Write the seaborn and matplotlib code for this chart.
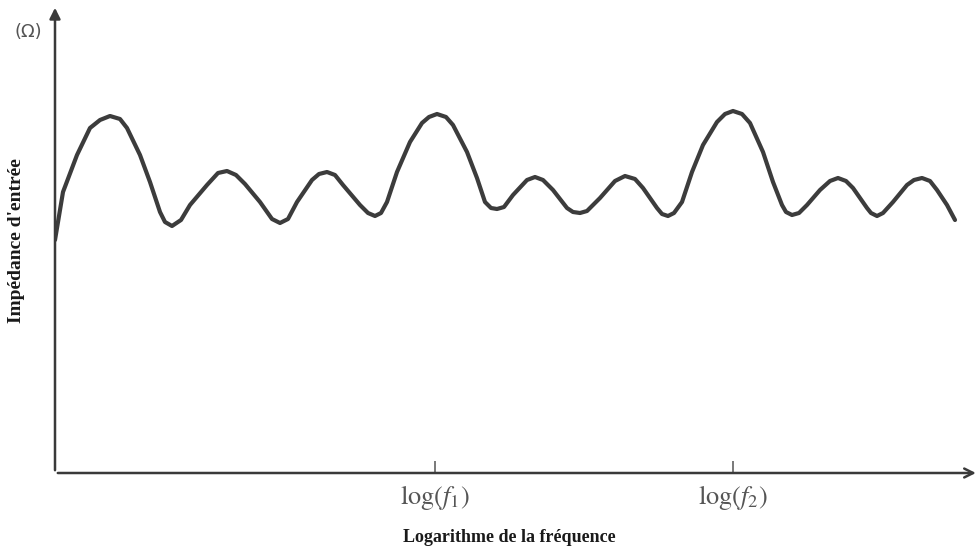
import numpy as np
import pandas as pd
import matplotlib
matplotlib.use("Agg")
import matplotlib.pyplot as plt
import seaborn as sns

# points (unités arbitraires, axe x 0..920, axe y 0..468)
freq_log = [0, 8, 22, 35, 45, 55, 65, 72, 85, 95, 105, 110, 117, 126, 135,
            152, 163, 172, 181, 190, 205, 217, 225, 233, 242, 257, 264, 272,
            280, 288, 305, 313, 320, 326, 332, 342, 355, 367, 374, 382, 391,
            398, 412, 422, 430, 436, 442, 449, 458, 472, 480, 488, 498, 512,
            518, 525, 532, 545, 560, 570, 580, 588, 602, 607, 613, 619, 627,
            637, 648, 662, 670, 678, 687, 695, 708, 718, 727, 731, 737, 744,
            752, 765, 775, 783, 791, 798, 812, 816, 822, 828, 838, 852, 859,
            867, 875, 882, 892, 900]
impedance = [233, 281, 318, 345, 353, 357, 354, 345, 318, 291, 261, 251, 247,
             253, 268, 288, 300, 302, 298, 289, 271, 254, 250, 254, 271, 293,
             299, 301, 298, 288, 268, 260, 257, 260, 271, 301, 331, 350, 356,
             359, 356, 348, 321, 295, 271, 265, 264, 266, 278, 293, 296, 293,
             283, 265, 261, 260, 262, 275, 292, 297, 294, 285, 265, 259, 257,
             260, 271, 301, 328, 351, 359, 362, 359, 350, 321, 291, 268, 261,
             258, 260, 268, 283, 292, 295, 292, 285, 265, 260, 257, 260, 271,
             288, 293, 295, 292, 283, 268, 253]
tick_pos = [380, 678]
tick_labels = [r"$\log(f_1)$", r"$\log(f_2)$"]

sns.set_style("white")
plt.rcParams["mathtext.fontset"] = "stix"

df = pd.DataFrame({"x": freq_log, "z": impedance})

fig = plt.figure(figsize=(9.79, 5.48), dpi=100)
ax = fig.add_axes([55 / 979, 75 / 548, 920 / 979, 468 / 548])

sns.lineplot(data=df, x="x", y="z", ax=ax, color="#3c3c3c", linewidth=3.0,
             solid_joinstyle="round", solid_capstyle="round")

ax.set_xlim(0, 920)
ax.set_ylim(0, 468)
for s in ["top", "right", "left", "bottom"]:
    ax.spines[s].set_visible(False)

axis_col = "#3a3a3a"
# axes avec flèches
ax.annotate("", xy=(1.004, 0), xytext=(0, 0), xycoords="axes fraction",
            arrowprops=dict(arrowstyle="->", color=axis_col, lw=1.8,
                            mutation_scale=16), annotation_clip=False)
ax.annotate("", xy=(0, 1.0), xytext=(0, 0), xycoords="axes fraction",
            arrowprops=dict(arrowstyle="-|>", color=axis_col, lw=1.8,
                            mutation_scale=16), annotation_clip=False)

ax.set_xticks(tick_pos)
ax.set_xticklabels(tick_labels, fontsize=19, color="#555555")
ax.tick_params(axis="x", direction="in", length=9, width=1.1,
               color="#555555", pad=7, bottom=True)
ax.set_yticks([])
ax.set_xlabel("")
ax.set_ylabel("")

fig.text(509 / 979, 1 - 537 / 548, "Logarithme de la fréquence",
         fontfamily="Liberation Serif", fontweight="bold", fontsize=13,
         color="#1a1a1a", ha="center", va="center")
fig.text(17 / 979, 1 - 241 / 548, "Impédance d'entrée",
         fontfamily="Liberation Serif", fontweight="bold", fontsize=14,
         color="#1a1a1a", ha="center", va="center", rotation=90)
fig.text(15 / 979, 1 - 32 / 548, "(Ω)", fontsize=13, color="#555555",
         va="center", ha="left")

fig.savefig("out.png", dpi=100)
